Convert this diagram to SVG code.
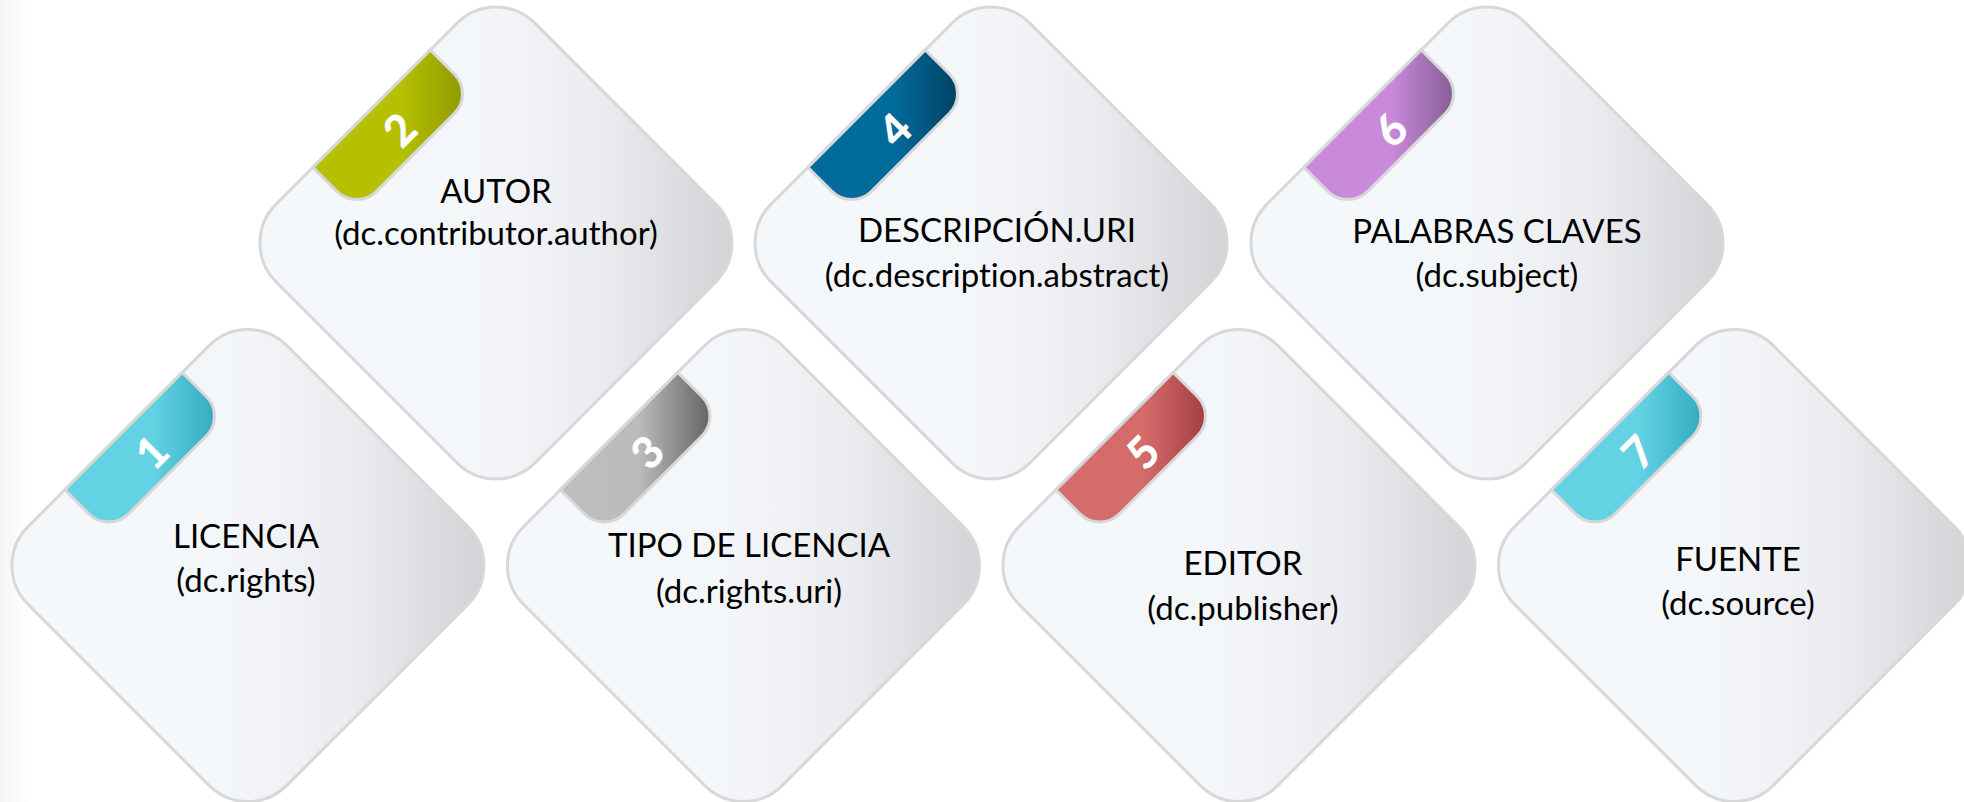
<svg xmlns="http://www.w3.org/2000/svg" width="1964" height="802" viewBox="0 0 1964 802">
<defs>
<linearGradient id="bgEdge" x1="0" y1="0" x2="1" y2="0">
<stop offset="0" stop-color="#EDEDED"/>
<stop offset="1" stop-color="#FFFFFF"/>
</linearGradient>
<linearGradient id="card" gradientUnits="userSpaceOnUse" x1="-167" y1="167" x2="167" y2="-167">
<stop offset="0" stop-color="#F5F8FB"/>
<stop offset="0.45" stop-color="#F4F7FA"/>
<stop offset="0.72" stop-color="#EBECEF"/>
<stop offset="1" stop-color="#D2D3D5"/>
</linearGradient>
<linearGradient id="t-cyan" gradientUnits="userSpaceOnUse" x1="-129.4" y1="129.4" x2="-17.7" y2="17.7">
<stop offset="0" stop-color="#63D3E4"/><stop offset="0.55" stop-color="#63D3E4"/><stop offset="1" stop-color="#2EA7BC"/>
</linearGradient>
<linearGradient id="t-olive" gradientUnits="userSpaceOnUse" x1="-129.4" y1="129.4" x2="-17.7" y2="17.7">
<stop offset="0" stop-color="#B5C100"/><stop offset="0.55" stop-color="#B5C100"/><stop offset="1" stop-color="#8C9500"/>
</linearGradient>
<linearGradient id="t-gray" gradientUnits="userSpaceOnUse" x1="-129.4" y1="129.4" x2="-17.7" y2="17.7">
<stop offset="0" stop-color="#BEBEBE"/><stop offset="0.5" stop-color="#BBBBBB"/><stop offset="1" stop-color="#5A5A5A"/>
</linearGradient>
<linearGradient id="t-blue" gradientUnits="userSpaceOnUse" x1="-129.4" y1="129.4" x2="-17.7" y2="17.7">
<stop offset="0" stop-color="#006A9B"/><stop offset="0.55" stop-color="#006A9B"/><stop offset="1" stop-color="#003D5C"/>
</linearGradient>
<linearGradient id="t-red" gradientUnits="userSpaceOnUse" x1="-129.4" y1="129.4" x2="-17.7" y2="17.7">
<stop offset="0" stop-color="#D56C6C"/><stop offset="0.55" stop-color="#D56C6C"/><stop offset="1" stop-color="#9E383C"/>
</linearGradient>
<linearGradient id="t-purple" gradientUnits="userSpaceOnUse" x1="-129.4" y1="129.4" x2="-17.7" y2="17.7">
<stop offset="0" stop-color="#C98ADB"/><stop offset="0.55" stop-color="#C98ADB"/><stop offset="1" stop-color="#7E578D"/>
</linearGradient>
<path id="tabShape" d="M-183,-90 H-149 A28,28 0 0 1 -121,-62 V48 A28,28 0 0 1 -149,76 H-183 Z"/>
</defs>
<style>
.card{fill:url(#card);stroke:#D8D8D8;stroke-width:3}
.tab{stroke:#D8D8D8;stroke-width:3}
.num{font-family:Lato,"Liberation Sans",sans-serif;font-weight:900;font-size:44px;fill:#FFFFFF;text-anchor:middle;dominant-baseline:central}
.lbl{font-family:Lato,"Liberation Sans",sans-serif;font-size:33px;fill:#000000;text-anchor:middle;font-variant-ligatures:none}
</style>
<rect x="0" y="0" width="1964" height="802" fill="#FFFFFF"/>
<rect x="0" y="0" width="30" height="802" fill="url(#bgEdge)" opacity="0.6"/>
<g id="connectors"/>

<g id="node-1">
<g transform="translate(248,565.5) rotate(45)">
<rect class="card" x="-183" y="-183" width="366" height="366" rx="55"/>
<use href="#tabShape" class="tab" fill="url(#t-cyan)"/>
</g>
<text class="num" transform="translate(151,451.5) rotate(-45)">1</text>
<text class="lbl" x="246" y="548">LICENCIA</text>
<text class="lbl" x="246" y="592">(dc.rights)</text>
</g>

<g id="node-2">
<g transform="translate(496,243) rotate(45)">
<rect class="card" x="-183" y="-183" width="366" height="366" rx="55"/>
<use href="#tabShape" class="tab" fill="url(#t-olive)"/>
</g>
<text class="num" transform="translate(399,129) rotate(-45)">2</text>
<text class="lbl" x="496" y="203">AUTOR</text>
<text class="lbl" x="496" y="245">(dc.contributor.author)</text>
</g>

<g id="node-3">
<g transform="translate(743.5,565.5) rotate(45)">
<rect class="card" x="-183" y="-183" width="366" height="366" rx="55"/>
<use href="#tabShape" class="tab" fill="url(#t-gray)"/>
</g>
<text class="num" transform="translate(646.5,451.5) rotate(-45)">3</text>
<text class="lbl" x="749" y="557">TIPO DE LICENCIA</text>
<text class="lbl" x="749" y="603">(dc.rights.uri)</text>
</g>

<g id="node-4">
<g transform="translate(991,243) rotate(45)">
<rect class="card" x="-183" y="-183" width="366" height="366" rx="55"/>
<use href="#tabShape" class="tab" fill="url(#t-blue)"/>
</g>
<text class="num" transform="translate(894,129) rotate(-45)">4</text>
<text class="lbl" x="997" y="242">DESCRIPCIÓN.URI</text>
<text class="lbl" x="997" y="287">(dc.description.abstract)</text>
</g>

<g id="node-5">
<g transform="translate(1239,565.5) rotate(45)">
<rect class="card" x="-183" y="-183" width="366" height="366" rx="55"/>
<use href="#tabShape" class="tab" fill="url(#t-red)"/>
</g>
<text class="num" transform="translate(1142,451.5) rotate(-45)">5</text>
<text class="lbl" x="1243" y="575">EDITOR</text>
<text class="lbl" x="1243" y="620">(dc.publisher)</text>
</g>

<g id="node-6">
<g transform="translate(1487,243) rotate(45)">
<rect class="card" x="-183" y="-183" width="366" height="366" rx="55"/>
<use href="#tabShape" class="tab" fill="url(#t-purple)"/>
</g>
<text class="num" transform="translate(1390,129) rotate(-45)">6</text>
<text class="lbl" x="1497" y="243">PALABRAS CLAVES</text>
<text class="lbl" x="1497" y="287">(dc.subject)</text>
</g>

<g id="node-7">
<g transform="translate(1734.5,565.5) rotate(45)">
<rect class="card" x="-183" y="-183" width="366" height="366" rx="55"/>
<use href="#tabShape" class="tab" fill="url(#t-cyan)"/>
</g>
<text class="num" transform="translate(1637.5,451.5) rotate(-45)">7</text>
<text class="lbl" x="1738" y="571">FUENTE</text>
<text class="lbl" x="1738" y="615">(dc.source)</text>
</g>
</svg>
